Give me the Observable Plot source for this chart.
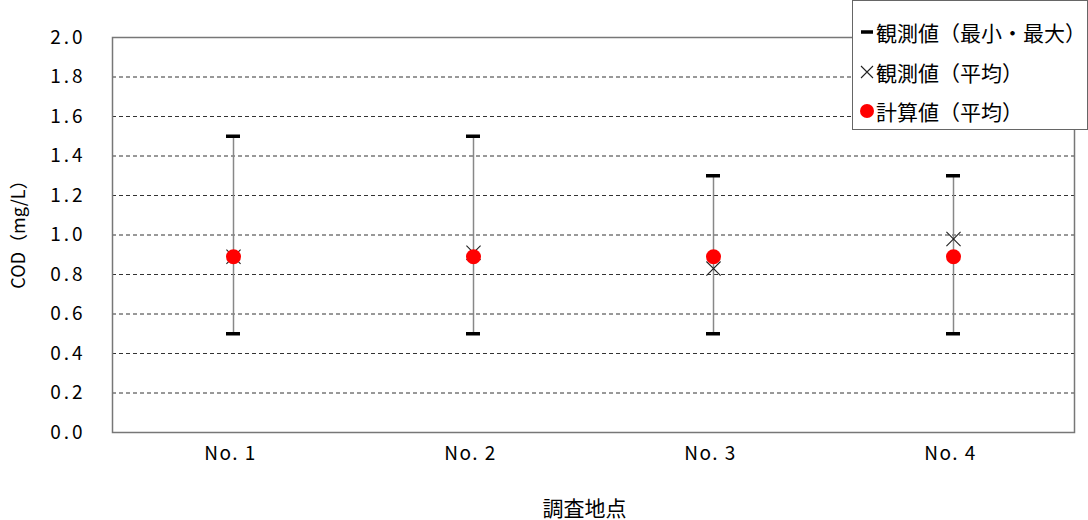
<!DOCTYPE html>
<html>
<head>
<meta charset="utf-8">
<script src="https://cdn.jsdelivr.net/npm/d3@7"></script>
<script src="https://cdn.jsdelivr.net/npm/@observablehq/plot@0.6"></script>
<style>
  html, body { margin: 0; padding: 0; background: #fff; }
  #wrap { position: relative; width: 1088px; height: 520px; font-family: "Noto Sans CJK JP", sans-serif; }
  #legend { position: absolute; left: 852px; top: 0px; width: 234px; height: 128px; border: 1px solid #666; background: #fff; box-sizing: content-box; }
  .item { position: absolute; left: 5px; display: flex; align-items: center; font-size: 21px; color: #000; height: 30px; line-height: 30px; white-space: nowrap; }
  .sym { width: 17px; height: 20px; display: flex; align-items: center; justify-content: center; margin-right: 1px; }
  g[aria-label="y-axis tick label"] text { font-size: 19px; letter-spacing: 3px; }
  g[aria-label="x-axis tick label"] text { font-size: 19px; letter-spacing: 1.5px; }
</style>
</head>
<body>
<div id="wrap">
  <div id="chart"></div>
  <div id="legend"></div>
</div>
<script>
const sites = ["No. 1", "No. 2", "No. 3", "No. 4"];
const obsMin = [0.5, 0.5, 0.5, 0.5];
const obsMax = [1.5, 1.5, 1.3, 1.3];
const obsMean = [0.89, 0.91, 0.83, 0.98];
const calcMean = [0.89, 0.89, 0.89, 0.89];
const yTicks = [0, 0.2, 0.4, 0.6, 0.8, 1.0, 1.2, 1.4, 1.6, 1.8, 2.0];
const legendLabels = ["観測値（最小・最大）", "観測値（平均）", "計算値（平均）"];

const data = sites.map((s, i) => ({site: s, min: obsMin[i], max: obsMax[i], obs: obsMean[i], calc: calcMean[i]}));

const chart = Plot.plot({
  width: 1088,
  height: 520,
  marginLeft: 112,
  marginRight: 14,
  marginTop: 37,
  marginBottom: 88,
  style: { fontFamily: "'Noto Sans CJK JP', sans-serif", fontSize: "17px", background: "#fff", color: "#000" },
  x: { domain: sites, padding: 0, label: null },
  y: { domain: [0, 2], label: null },
  marks: [
    Plot.gridY(yTicks.filter(d => d > 0 && d < 2), { stroke: "#333", strokeOpacity: 1, strokeDasharray: "4,3", strokeWidth: 1 }),
    Plot.frame({ stroke: "#777", strokeWidth: 1.5 }),
    Plot.axisY(yTicks, { tickSize: 0, tickPadding: 27, tickFormat: d => d.toFixed(1) }),
    Plot.axisX({ tickSize: 0, tickPadding: 14, dx: -3 }),
    Plot.text(["調査地点"], { frameAnchor: "bottom", dx: -9, dy: 83, fontSize: 21, fill: "#000" }),
    Plot.text(["COD（mg/L）"], { frameAnchor: "left", textAnchor: "middle", dx: -93, dy: -5, rotate: -90, fontSize: 18, fill: "#000" }),
    Plot.ruleX(data, { x: "site", y1: "min", y2: "max", stroke: "#888", strokeWidth: 1.5 }),
    Plot.tickY(data, { x: "site", y: "min", stroke: "#000", strokeWidth: 3.5, insetLeft: 113, insetRight: 113 }),
    Plot.tickY(data, { x: "site", y: "max", stroke: "#000", strokeWidth: 3.5, insetLeft: 113, insetRight: 113 }),
    Plot.dot(data, { x: "site", y: "obs", symbol: "times", r: 6.5, stroke: "#222", strokeWidth: 1.1 }),
    Plot.dot(data, { x: "site", y: "calc", r: 7.5, fill: "#ff0000", stroke: "none" })
  ]
});
document.getElementById("chart").appendChild(chart);

const legend = document.getElementById("legend");
const syms = [
  '<svg width="16" height="16"><line x1="2" x2="14" y1="8" y2="8" stroke="#000" stroke-width="3.5"/></svg>',
  '<svg width="16" height="16"><path d="M2,2L14,14M14,2L2,14" stroke="#222" stroke-width="1.1"/></svg>',
  '<svg width="16" height="16"><circle cx="8" cy="8" r="7" fill="#ff0000"/></svg>'
];
const tops = [31, 71, 110];
legendLabels.forEach((lab, i) => {
  const it = document.createElement("div");
  it.className = "item";
  it.style.top = tops[i] - 15 + "px";
  it.innerHTML = `<span class="sym">${syms[i]}</span><span>${lab}</span>`;
  legend.appendChild(it);
});
</script>
</body>
</html>
